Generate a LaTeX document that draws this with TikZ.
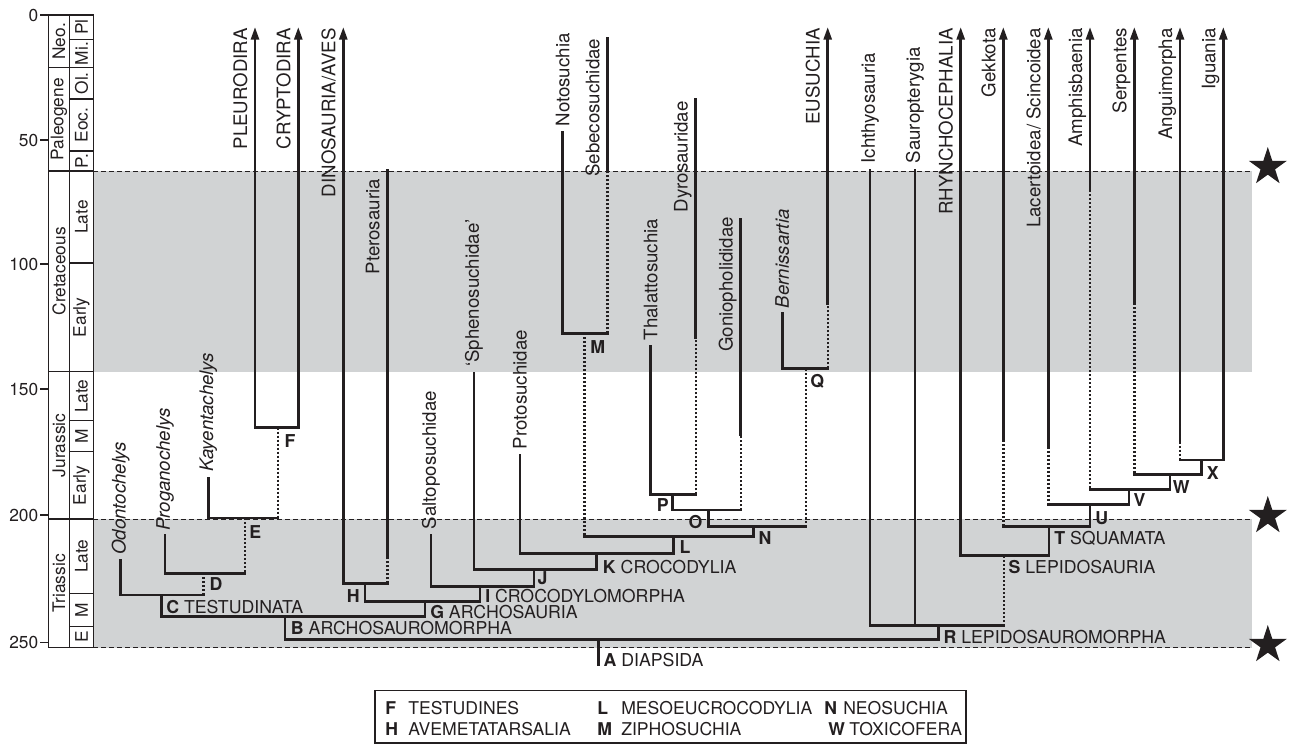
\documentclass[tikz,border=0pt]{standalone}
\usepackage{fontspec}
\setmainfont{TeX Gyre Heros}
\usetikzlibrary{arrows.meta,shapes.geometric}

\definecolor{bandgray}{RGB}{209,211,212}
\definecolor{ink}{RGB}{35,31,32}

\begin{document}
\begin{tikzpicture}[x=0.75pt,y=-0.75pt,
  branch/.style={line width=2pt, line cap=rect, draw=ink},
  ghost/.style={line width=1.8pt, draw=ink, dash pattern=on 1.5pt off 1.5pt},
  tipArrow/.style={-{Triangle[length=9.5pt,width=6pt]}},
  startArrow/.style={{Triangle[length=9.5pt,width=6pt]}-},
  dualArrow/.style={{Triangle[length=9.5pt,width=6pt]}-{Triangle[length=9.5pt,width=6pt]}},
  taxon/.style={font=\fontsize{14}{16}\selectfont, inner sep=0pt, rotate=90, text=ink},
  toplabel/.style={taxon, anchor=west},
  sidelabel/.style={taxon, anchor=base east},
  clade/.style={font=\fontsize{13.3}{15}\selectfont, inner sep=0pt, anchor=west, text=ink},
  epochtext/.style={font=\fontsize{13}{15}\selectfont, inner sep=0pt, rotate=90, text=ink},
  agetext/.style={font=\fontsize{13}{15}\selectfont, inner sep=0pt, anchor=east, text=ink},
  boundary/.style={line width=0.75pt, dash pattern=on 3.75pt off 2.25pt, draw=ink},
  scalebox/.style={line width=1pt, draw=ink},
  keytext/.style={font=\fontsize{13.2}{15}\selectfont, inner sep=0pt, anchor=west, text=ink},
  extinction/.style={star, star points=5, star point ratio=2.618, fill=ink, draw=none, inner sep=0pt, minimum size=30pt}
]
\useasboundingbox (0,0) rectangle (1289,747);
\fill[white] (0,0) rectangle (1289,747);

% shaded Cretaceous and Triassic bands
\fill[bandgray] (93.3,171) rectangle (1252,371.7);
\fill[bandgray] (93.3,519) rectangle (1252,647.7);
\draw[boundary] (93.3,171) -- (1252,171);
\draw[boundary] (93.3,519) -- (1252,519);
\draw[boundary] (93.3,647.7) -- (1252,647.7);

% mass extinction stars
\node[extinction] (starKPg) at (1267.8,167) {};
\node[extinction] (starTrJ) at (1267.8,516) {};
\node[extinction] (starPTr) at (1267.8,645) {};

% geological time scale
\draw[scalebox] (48.3,15) rectangle (93.3,647.7);
\draw[scalebox] (69.7,15) -- (69.7,647.7);
\foreach \y in {67.7,171,371.7,519}
  \draw[scalebox] (48.3,\y) -- (93.3,\y);
\foreach \y in {39.5,99,151,263,420.7,451.7,593.3,626.7}
  \draw[scalebox] (69.7,\y) -- (93.3,\y);
\foreach \y/\t in {15/0,140/50,264/100,389/150,515/200,642.5/250}{
  \draw[scalebox] (40,\y) -- (48.3,\y);
  \node[agetext] at (38.5,\y) {\t};
}
\node[epochtext] (pNeo) at (59,41.3) {Neo.};
\node[epochtext] (pPal) at (59,119.3) {Paleogene};
\node[epochtext] (pCre) at (59,271.3) {Cretaceous};
\node[epochtext] (pJur) at (59,445.3) {Jurassic};
\node[epochtext] (pTri) at (59,583.3) {Triassic};
\node[epochtext] (ePl) at (81.5,27.2) {Pl};
\node[epochtext] (eMi) at (81.5,53.6) {Mi.};
\node[epochtext] (eOl) at (81.5,83.3) {Ol.};
\node[epochtext] (eEo) at (81.5,125) {Eoc.};
\node[epochtext] (ePa) at (81.5,161) {P.};
\node[epochtext] (eKL) at (81.5,217) {Late};
\node[epochtext] (eKE) at (81.5,317.3) {Early};
\node[epochtext] (eJL) at (81.5,396.2) {Late};
\node[epochtext] (eJM) at (81.5,436.2) {M};
\node[epochtext] (eJE) at (81.5,485.3) {Early};
\node[epochtext] (eTL) at (81.5,556.2) {Late};
\node[epochtext] (eTM) at (81.5,610) {M};
\node[epochtext] (eTE) at (81.5,637.2) {E};

% terminal taxa: upper ends of lineages, and where the solid record stops
\coordinate (tOdon) at (120.7,560);
\coordinate (tProg) at (165,535);
\coordinate (tKay)  at (208.3,478);
\coordinate (tPleu) at (255,27);
\coordinate (tCryp) at (298.3,27);
\coordinate (tDino) at (343.3,27);
\coordinate (tPter) at (387.3,170.7);  \coordinate (sPter) at (387.3,558);
\coordinate (tSalt) at (431,535);
\coordinate (tSphe) at (474,373.3);
\coordinate (tProt) at (520,455);
\coordinate (tNoto) at (562.7,132.3);
\coordinate (tSebe) at (607.3,38.3);   \coordinate (sSebe) at (607.3,171.7);
\coordinate (tThal) at (650.7,346.7);
\coordinate (tDyro) at (695.7,99.3);   \coordinate (sDyro) at (695.7,338);
\coordinate (tGoni) at (740.7,219.3);  \coordinate (sGoni) at (740.7,435);
\coordinate (tBern) at (782.3,313.3);
\coordinate (tEusu) at (827.7,27);     \coordinate (sEusu) at (827.7,303.3);
\coordinate (tIcht) at (870,170);
\coordinate (tSaur) at (915,170);
\coordinate (tRhyn) at (960.7,27);
\coordinate (tGekk) at (1003.3,27);    \coordinate (sGekk) at (1003.3,440);
\coordinate (tLace) at (1048.3,27);    \coordinate (sLace) at (1048.3,446.7);
\coordinate (tAmph) at (1090,27);      \coordinate (sAmph) at (1090,190);
\coordinate (tSerp) at (1134.3,27);    \coordinate (sSerp) at (1134.3,303.3);
\coordinate (tAngu) at (1180,27);      \coordinate (sAngu) at (1180,441.7);
\coordinate (tIgua) at (1223.3,27);

% clade nodes: stem position and level of the split
\coordinate (nA) at (598.3,639.3);  \coordinate (rootEnd) at (598.3,665);
\coordinate (nB) at (285,616.7);
\coordinate (nC) at (161.7,595);
\coordinate (nD) at (203.3,573.3);
\coordinate (nE) at (245,518);
\coordinate (nF) at (277.7,427.7);
\coordinate (nG) at (425,601.7);
\coordinate (nH) at (365,583.3);
\coordinate (nI) at (480,586.7);
\coordinate (nJ) at (534,569.3);
\coordinate (nK) at (596.7,553.3);
\coordinate (nL) at (673.3,536.7);
\coordinate (nM) at (584.3,333.3);
\coordinate (nN) at (753.3,526.7);
\coordinate (nO) at (708.3,510);
\coordinate (nP) at (672.7,494.3);
\coordinate (nQ) at (805.7,368.3);
\coordinate (nR) at (938.3,625.7);
\coordinate (nS) at (1004,555.7);
\coordinate (nT) at (1049,526.7);
\coordinate (nU) at (1090,504.3);
\coordinate (nV) at (1129,489.3);
\coordinate (nW) at (1170,474.3);
\coordinate (nX) at (1201.7,460);

% turtles
\draw[branch,dualArrow] (tPleu) -- (tPleu |- nF) -- (tCryp |- nF) -- (tCryp);
\draw[ghost] (nF) -- (nF |- nE);
\draw[branch] (tKay) -- (tKay |- nE) -- (nF |- nE);
\draw[ghost] (nE) -- (nE |- nD);
\draw[branch] (tProg) -- (tProg |- nD) -- (nE |- nD);
\draw[ghost] (nD) -- (nD |- nC);
\draw[branch] (tOdon) -- (tOdon |- nC) -- (nD |- nC);
\draw[branch] (nC) -- (nC |- nB) -- (nG |- nB) -- (nG);
\draw[branch] (nB) -- (nB |- nA) -- (nR |- nA);
\draw[branch] (nA) -- (rootEnd);

% archosaurs
\draw[branch,startArrow] (tDino) -- (tDino |- nH) -- (tPter |- nH);
\draw[ghost] (tPter |- nH) -- (sPter);
\draw[branch] (sPter) -- (tPter);
\draw[branch] (nH) -- (nH |- nG) -- (nI |- nG) -- (nI);
\draw[branch] (tSalt) -- (tSalt |- nI) -- (nJ |- nI) -- (nJ);
\draw[branch] (tSphe) -- (tSphe |- nJ) -- (nK |- nJ) -- (nK);
\draw[branch] (tProt) -- (tProt |- nK) -- (nL |- nK) -- (nL);
\draw[ghost] (nM) -- (nM |- nL);
\draw[branch] (nM |- nL) -- (nN |- nL) -- (nN);
\draw[branch] (tNoto) -- (tNoto |- nM) -- (tSebe |- nM);
\draw[ghost] (tSebe |- nM) -- (sSebe);
\draw[branch] (sSebe) -- (tSebe);
\draw[branch] (nO) -- (nO |- nN) -- (nQ |- nN);
\draw[ghost] (nQ |- nN) -- (nQ);
\draw[branch] (nP) -- (nP |- nO) -- (tGoni |- nO);
\draw[ghost] (tGoni |- nO) -- (sGoni);
\draw[branch] (sGoni) -- (tGoni);
\draw[branch] (tThal) -- (tThal |- nP) -- (tDyro |- nP);
\draw[ghost] (tDyro |- nP) -- (sDyro);
\draw[branch] (sDyro) -- (tDyro);
\draw[branch] (tBern) -- (tBern |- nQ) -- (tEusu |- nQ);
\draw[ghost] (tEusu |- nQ) -- (sEusu);
\draw[branch,tipArrow] (sEusu) -- (tEusu);

% lepidosauromorphs
\draw[branch] (tIcht) -- (tIcht |- nR) -- (nS |- nR);
\draw[branch] (tSaur) -- (tSaur |- nR);
\draw[branch] (nR) -- (nR |- nA);
\draw[ghost] (nS |- nR) -- (nS);
\draw[branch,startArrow] (tRhyn) -- (tRhyn |- nS) -- (nT |- nS) -- (nT);
\draw[ghost] (sGekk) -- (tGekk |- nT);
\draw[branch] (tGekk |- nT) -- (nU |- nT) -- (nU);
\draw[branch,tipArrow] (sGekk) -- (tGekk);
\draw[ghost] (sLace) -- (tLace |- nU);
\draw[branch] (tLace |- nU) -- (nV |- nU) -- (nV);
\draw[branch,tipArrow] (sLace) -- (tLace);
\draw[ghost] (sAmph) -- (tAmph |- nV);
\draw[branch] (tAmph |- nV) -- (nW |- nV) -- (nW);
\draw[branch,tipArrow] (sAmph) -- (tAmph);
\draw[ghost] (sSerp) -- (tSerp |- nW);
\draw[branch] (tSerp |- nW) -- (nX |- nW) -- (nX);
\draw[branch,tipArrow] (sSerp) -- (tSerp);
\draw[ghost] (sAngu) -- (tAngu |- nX);
\draw[branch,tipArrow] (tAngu |- nX) -- (tIgua |- nX) -- (tIgua);
\draw[branch,tipArrow] (sAngu) -- (tAngu);

% taxon names above the lineages
\node[toplabel] (lOdon) at (120.7,555) {\itshape Odontochelys};
\node[toplabel] (lProg) at (165,531) {\itshape Proganochelys};
\node[toplabel] (lKay)  at (208.3,472) {\itshape Kayentachelys};
\node[toplabel] (lSalt) at (431,529.3) {Saltoposuchidae};
\node[toplabel] (lSphe) at (474,367) {‘Sphenosuchidae’};
\node[toplabel] (lProt) at (520,449.3) {Protosuchidae};
\node[toplabel] (lNoto) at (562.7,126.7) {Notosuchia};
\node[toplabel] (lThal) at (650.7,340.5) {Thalattosuchia};
\node[toplabel] (lBern) at (782.3,308.3) {\itshape Bernissartia};
\node[toplabel] (lIcht) at (870,163.5) {Ichthyosauria};
\node[toplabel] (lSaur) at (915,163.5) {Sauropterygia};

% taxon names beside the lineages
\node[sidelabel] (lPleu) at (247,28) {PLEURODIRA};
\node[sidelabel] (lCryp) at (290.3,28) {CRYPTODIRA};
\node[sidelabel] (lDino) at (335.3,28) {DINOSAURIA/AVES};
\node[sidelabel] (lPter) at (379.3,179) {Pterosauria};
\node[sidelabel] (lSebe) at (599.3,38.5) {Sebecosuchidae};
\node[sidelabel] (lDyro) at (687.7,101) {Dyrosauridae};
\node[sidelabel] (lGoni) at (732.7,216.7) {Goniopholididae};
\node[sidelabel] (lEusu) at (819.7,28) {EUSUCHIA};
\node[sidelabel] (lRhyn) at (952.7,28) {RHYNCHOCEPHALIA};
\node[sidelabel] (lGekk) at (995.3,28) {Gekkota};
\node[sidelabel] (lLace) at (1040.3,28) {Lacertoidea/ Scincoidea};
\node[sidelabel] (lAmph) at (1082,28) {Amphisbaenia};
\node[sidelabel] (lSerp) at (1126.3,28) {Serpentes};
\node[sidelabel] (lAngu) at (1172,28) {Anguimorpha};
\node[sidelabel] (lIgua) at (1215.3,28) {Iguania};

% clade labels
\node[clade] (cA) at (603.3,660) {\textbf{A} DIAPSIDA};
\node[clade] (cB) at (290.7,628.3) {\textbf{B} ARCHOSAUROMORPHA};
\node[clade] (cC) at (166,606.7) {\textbf{C} TESTUDINATA};
\node[clade] (cD) at (209.3,584.3) {\textbf{D}};
\node[clade] (cE) at (249,531.7) {\textbf{E}};
\node[clade] (cF) at (284.3,440.7) {\textbf{F}};
\node[clade] (cG) at (430,611.7) {\textbf{G} ARCHOSAURIA};
\node[clade] (cH) at (346.7,596) {\textbf{H}};
\node[clade] (cI) at (485,595.7) {\textbf{I} CROCODYLOMORPHA};
\node[clade] (cJ) at (537.3,578.3) {\textbf{J}};
\node[clade] (cK) at (602.7,566.7) {\textbf{K} CROCODYLIA};
\node[clade] (cL) at (679.3,546.7) {\textbf{L}};
\node[clade] (cM) at (590,346.7) {\textbf{M}};
\node[clade] (cN) at (758.3,538.3) {\textbf{N}};
\node[clade] (cO) at (688.3,521.7) {\textbf{O}};
\node[clade] (cP) at (656.7,505) {\textbf{P}};
\node[clade] (cQ) at (810,381.7) {\textbf{Q}};
\node[clade] (cR) at (943.3,637.3) {\textbf{R} LEPIDOSAUROMORPHA};
\node[clade] (cS) at (1008.3,567.3) {\textbf{S} LEPIDOSAURIA};
\node[clade] (cT) at (1054,538.3) {\textbf{T} SQUAMATA};
\node[clade] (cU) at (1095,517.7) {\textbf{U}};
\node[clade] (cV) at (1133.3,500) {\textbf{V}};
\node[clade] (cW) at (1172.7,486.7) {\textbf{W}};
\node[clade] (cX) at (1206.7,472.7) {\textbf{X}};

% key to the lettered clades
\draw[scalebox] (375,690.7) rectangle (966,743);
\node[keytext] (kF)  at (385,708.3) {\textbf{F}};
\node[keytext] (kFt) at (408,708.3) {TESTUDINES};
\node[keytext] (kH)  at (385,729.3) {\textbf{H}};
\node[keytext] (kHt) at (408,729.3) {AVEMETATARSALIA};
\node[keytext] (kL)  at (597,708.3) {\textbf{L}};
\node[keytext] (kLt) at (621,708.3) {MESOEUCROCODYLIA};
\node[keytext] (kM)  at (597,729.3) {\textbf{M}};
\node[keytext] (kMt) at (621,729.3) {ZIPHOSUCHIA};
\node[keytext] (kN)  at (824,708.3) {\textbf{N}};
\node[keytext] (kNt) at (843,708.3) {NEOSUCHIA};
\node[keytext] (kW)  at (828,729.3) {\textbf{W}};
\node[keytext] (kWt) at (849,729.3) {TOXICOFERA};
\end{tikzpicture}
\end{document}
